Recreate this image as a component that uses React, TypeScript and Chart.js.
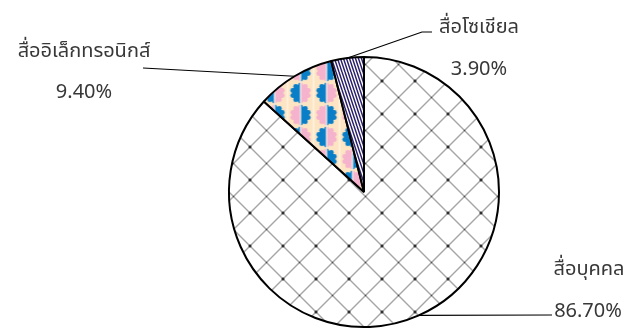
import React, { useEffect, useRef } from "react";
import { Chart, registerables } from "chart.js";

Chart.register(...registerables);

const categories = ["สื่อบุคคล", "สื่ออิเล็กทรอนิกส์", "สื่อโซเชียล"];
const shares = [86.7, 9.4, 3.9];
const shareLabels = ["86.70%", "9.40%", "3.90%"];

const FONT = '"Noto Sans Thai", "Noto Sans", Tahoma, sans-serif';

function makeTile(w: number, h: number, draw: (g: CanvasRenderingContext2D) => void) {
  const c = document.createElement("canvas");
  c.width = w;
  c.height = h;
  const g = c.getContext("2d") as CanvasRenderingContext2D;
  draw(g);
  return c;
}

function crossPattern(ctx: CanvasRenderingContext2D) {
  const s = 33;
  const tile = makeTile(s, s, (g) => {
    g.fillStyle = "#ffffff";
    g.fillRect(0, 0, s, s);
    g.strokeStyle = "#4d4d4d";
    g.lineWidth = 1;
    g.beginPath();
    g.moveTo(0, 0);
    g.lineTo(s, s);
    g.moveTo(s, 0);
    g.lineTo(0, s);
    g.stroke();
    g.fillStyle = "#2e2e2e";
    g.fillRect(s / 2 - 1.5, s / 2 - 1.5, 3, 3);
  });
  const p = ctx.createPattern(tile, "repeat") as CanvasPattern;
  p.setTransform(new DOMMatrix().translate(398.5, 229.5));
  return p;
}

function scallop(g: CanvasRenderingContext2D, cx: number, cy: number, r: number, left: string, right: string) {
  const halves: [string, number, number][] = [
    [left, cx - r - 4, cx],
    [right, cx, cx + r + 4],
  ];
  for (const [col, x0, x1] of halves) {
    g.save();
    g.beginPath();
    g.rect(x0, cy - r - 4, x1 - x0, 2 * r + 8);
    g.clip();
    g.fillStyle = col;
    g.beginPath();
    g.arc(cx, cy, r - 1.8, 0, Math.PI * 2);
    g.fill();
    for (let k = 0; k < 10; k++) {
      const a = (k / 10) * Math.PI * 2 + Math.PI / 10;
      g.beginPath();
      g.arc(cx + Math.cos(a) * (r - 2.3), cy + Math.sin(a) * (r - 2.3), 2.4, 0, Math.PI * 2);
      g.fill();
    }
    g.restore();
  }
}

function bubblePattern(ctx: CanvasRenderingContext2D) {
  const w = 26;
  const h = 44;
  const blue = "#0a7fc8";
  const pink = "#f5b3cd";
  const tile = makeTile(w, h, (g) => {
    g.fillStyle = "#fde5c3";
    g.fillRect(0, 0, w, h);
    for (const cx of [0, w]) {
      scallop(g, cx, 11, 10.5, blue, pink);
      scallop(g, cx, 33, 10.5, pink, blue);
    }
    g.fillStyle = "#fff7ec";
    for (const x of [0, w / 2, w]) g.fillRect(x - 0.6, 0, 1.2, h);
  });
  const p = ctx.createPattern(tile, "repeat") as CanvasPattern;
  p.setTransform(new DOMMatrix().translate(300.5, 82));
  return p;
}

function stripePattern(ctx: CanvasRenderingContext2D) {
  const w = 6;
  const h = 18;
  const tile = makeTile(w, h, (g) => {
    g.fillStyle = "#ffffff";
    g.fillRect(0, 0, w, h);
    g.strokeStyle = "#2a1f6b";
    g.lineWidth = 1.5;
    g.beginPath();
    for (let k = -3; k <= 3; k++) {
      const x0 = k * 3;
      g.moveTo(x0, 0);
      g.lineTo(x0 + 6, h);
    }
    g.stroke();
  });
  return ctx.createPattern(tile, "repeat") as CanvasPattern;
}

type LabelLayout = { path: [number, number][]; name: [number, number]; value: [number, number] };

const labelLayouts: LabelLayout[] = [
  { path: [[552, 315]], name: [589, 275], value: [588, 317] },
  { path: [[143, 68]], name: [84, 57], value: [84, 98] },
  { path: [[422, 32], [432, 32]], name: [479, 33], value: [479, 75] },
];

const calloutPlugin = {
  id: "callouts",
  afterDraw(chart: any) {
    const ctx = chart.ctx as CanvasRenderingContext2D;
    const meta = chart.getDatasetMeta(0);
    meta.data.forEach((arc: any, i: number) => {
      const { x, y, startAngle, endAngle, outerRadius } = arc.getProps(
        ["x", "y", "startAngle", "endAngle", "outerRadius"],
        true
      );
      const mid = (startAngle + endAngle) / 2;
      const sx = x + Math.cos(mid) * outerRadius;
      const sy = y + Math.sin(mid) * outerRadius;
      const lay = labelLayouts[i];
      ctx.save();
      ctx.strokeStyle = "#000000";
      ctx.lineWidth = 1.2;
      ctx.beginPath();
      ctx.moveTo(sx, sy);
      for (const [px, py] of lay.path) ctx.lineTo(px, py);
      ctx.stroke();
      ctx.fillStyle = "#383838";
      ctx.font = `20px ${FONT}`;
      ctx.textAlign = "center";
      ctx.textBaseline = "alphabetic";
      ctx.fillText(chart.data.labels[i], lay.name[0], lay.name[1]);
      ctx.fillText(shareLabels[i], lay.value[0], lay.value[1]);
      ctx.restore();
    });
  },
};

export default function App() {
  const ref = useRef<HTMLCanvasElement | null>(null);
  useEffect(() => {
    const canvas = ref.current;
    if (!canvas) return;
    const ctx = canvas.getContext("2d") as CanvasRenderingContext2D;
    const chart = new Chart(canvas, {
      type: "pie",
      data: {
        labels: categories,
        datasets: [
          {
            data: shares,
            backgroundColor: [crossPattern(ctx), bubblePattern(ctx), stripePattern(ctx)],
            borderColor: "#000000",
            borderWidth: 2,
            hoverBorderWidth: 2,
          },
        ],
      },
      options: {
        animation: false,
        responsive: false,
        events: [],
        layout: { padding: { left: 228, top: 56, right: 128, bottom: 4 } },
        plugins: {
          legend: { display: false },
          tooltip: { enabled: false },
        },
      },
      plugins: [calloutPlugin],
    });
    return () => chart.destroy();
  }, []);
  return (
    <div style={{ position: "fixed", left: 0, top: 0, width: 628, height: 332, background: "#ffffff" }}>
      <canvas ref={ref} width={628} height={332} style={{ display: "block", width: 628, height: 332 }} />
    </div>
  );
}
